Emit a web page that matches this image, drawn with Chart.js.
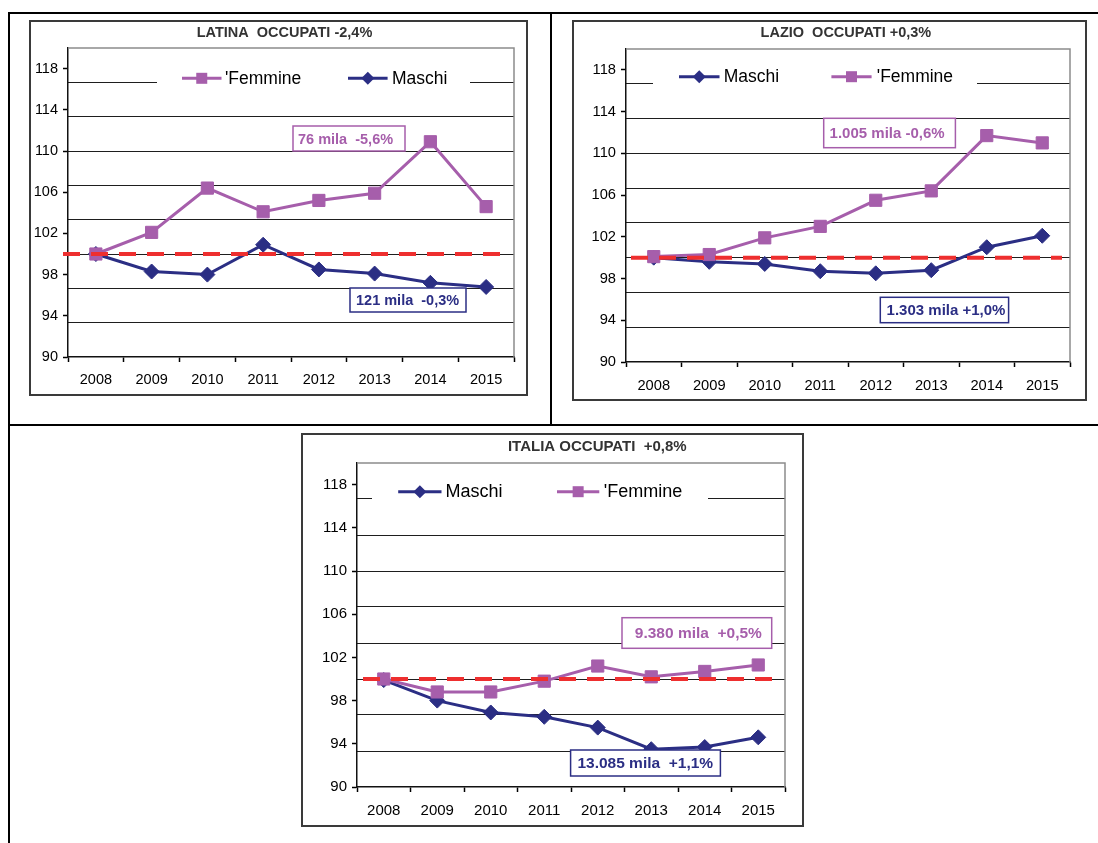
<!DOCTYPE html>
<html><head><meta charset="utf-8">
<script src="https://cdn.jsdelivr.net/npm/chart.js@4.4.1/dist/chart.umd.min.js"></script>
<style>
html,body{margin:0;padding:0;background:#fff;}
body{width:1098px;height:843px;position:relative;overflow:hidden;}
.ln{position:absolute;background:#000;}
canvas{position:absolute;}
</style></head><body>
<div class="ln" style="left:8px;top:12px;width:1090px;height:2px"></div>
<div class="ln" style="left:8px;top:12px;width:2px;height:831px"></div>
<div class="ln" style="left:550px;top:12px;width:2px;height:414px"></div>
<div class="ln" style="left:8px;top:424px;width:1090px;height:2px"></div>
<canvas id="c1" width="499" height="376" style="left:29px;top:20px;width:499px;height:376px"></canvas>
<canvas id="c2" width="515" height="381" style="left:572px;top:20px;width:515px;height:381px"></canvas>
<canvas id="c3" width="503" height="394" style="left:301px;top:433px;width:503px;height:394px"></canvas>
<script>
// ---------- data ----------
const years = ['2008','2009','2010','2011','2012','2013','2014','2015'];
const yTickLabels = [90, 94, 98, 102, 106, 110, 114, 118];
const gridValues = [93.333, 96.667, 100, 103.333, 106.667, 110, 113.333, 116.667];
const yMin = 90, yMax = 120;
const baseline = 100;

const latinaTitle = 'LATINA  OCCUPATI -2,4%';
const latinaFemmine = [100, 102.1, 106.4, 104.1, 105.2, 105.9, 110.9, 104.6];
const latinaMaschi  = [100, 98.3, 98.0, 100.9, 98.5, 98.1, 97.2, 96.8];
const latinaNoteF = '76 mila  -5,6%';
const latinaNoteM = '121 mila  -0,3%';

const lazioTitle = 'LAZIO  OCCUPATI +0,3%';
const lazioMaschi  = [100, 99.6, 99.4, 98.7, 98.5, 98.8, 101.0, 102.1];
const lazioFemmine = [100.1, 100.3, 101.9, 103.0, 105.5, 106.4, 111.7, 111.0];
const lazioNoteF = '1.005 mila -0,6%';
const lazioNoteM = '1.303 mila +1,0%';

const italiaTitle = 'ITALIA OCCUPATI  +0,8%';
const italiaMaschi  = [99.9, 98.0, 96.9, 96.5, 95.5, 93.5, 93.7, 94.6];
const italiaFemmine = [100.0, 98.8, 98.8, 99.8, 101.2, 100.2, 100.7, 101.3];
const italiaNoteF = '9.380 mila  +0,5%';
const italiaNoteM = '13.085 mila  +1,1%';

const labelMaschi = 'Maschi';
const labelFemmine = "'Femmine";

// ---------- styles ----------
const FONT = '"Liberation Sans", Arial, Helvetica, sans-serif';
const NAVY = '#2B2E84';
const PURPLE = '#A65EAB';
const RED = '#EE2F2F';

function femmineDs(data) {
  return {label: labelFemmine, data, borderColor: PURPLE, backgroundColor: PURPLE,
    borderWidth: 3, pointStyle: 'rect', pointRadius: 8.6, pointHoverRadius: 8.6,
    pointBorderWidth: 1, pointBackgroundColor: PURPLE, pointBorderColor: PURPLE,
    tension: 0, order: 0, key: 'F'};
}
function maschiDs(data) {
  return {label: labelMaschi, data, borderColor: NAVY, backgroundColor: NAVY,
    borderWidth: 3, pointStyle: 'rectRot', pointRadius: 7.5, pointHoverRadius: 7.5,
    pointBorderWidth: 1, pointBackgroundColor: NAVY, pointBorderColor: NAVY,
    tension: 0, order: 1, key: 'M'};
}

function drawMarker(ctx, style, x, y, s, color) {
  ctx.fillStyle = color;
  ctx.beginPath();
  if (style === 'rect') {
    ctx.rect(x - s / 2, y - s / 2, s, s);
  } else {
    ctx.moveTo(x, y - s / 2); ctx.lineTo(x + s / 2, y); ctx.lineTo(x, y + s / 2); ctx.lineTo(x - s / 2, y);
    ctx.closePath();
  }
  ctx.fill();
}

const decor = {
  id: 'decor',
  afterDatasetsDraw(chart, args, o) {
    const {ctx, chartArea: a} = chart;
    const py = chart.scales.y.getPixelForValue(baseline);
    ctx.save();
    ctx.strokeStyle = RED; ctx.lineWidth = 4; ctx.setLineDash([17, 11]);
    ctx.beginPath(); ctx.moveTo(a.left + o.refFrom, py); ctx.lineTo(a.right + o.refTo, py); ctx.stroke();
    ctx.restore();
  },
  afterDraw(chart, args, o) {
    const {ctx, chartArea: a, width, height} = chart;
    ctx.save();
    // plot frame top & right
    ctx.strokeStyle = '#8c8c8c'; ctx.lineWidth = 1.5;
    ctx.beginPath(); ctx.moveTo(a.left, a.top); ctx.lineTo(a.right, a.top); ctx.lineTo(a.right, a.bottom); ctx.stroke();
    // legend
    const L = o.legend;
    ctx.fillStyle = '#fff';
    ctx.fillRect(L.gapFrom, L.y - 11, L.gapTo - L.gapFrom, 22);
    L.items.forEach(it => {
      const ds = chart.data.datasets.find(d => d.key === it.key);
      ctx.strokeStyle = ds.borderColor; ctx.lineWidth = 3;
      ctx.beginPath(); ctx.moveTo(it.x0, L.y); ctx.lineTo(it.x1, L.y); ctx.stroke();
      drawMarker(ctx, ds.pointStyle, (it.x0 + it.x1) / 2, L.y, ds.pointStyle === 'rect' ? 11 : 13, ds.borderColor);
      ctx.fillStyle = '#000'; ctx.font = L.font + 'px ' + FONT; ctx.textBaseline = 'alphabetic'; ctx.textAlign = 'left';
      ctx.fillText(ds.label, it.tx, L.y + 5.7);
    });
    // note boxes
    o.notes.forEach(n => {
      ctx.fillStyle = '#fff'; ctx.fillRect(n.x, n.y, n.w, n.h);
      ctx.strokeStyle = n.color; ctx.lineWidth = 1.5; ctx.strokeRect(n.x, n.y, n.w, n.h);
      ctx.fillStyle = n.color; ctx.font = 'bold ' + o.noteFont + 'px ' + FONT;
      ctx.textAlign = 'left'; ctx.textBaseline = 'alphabetic';
      ctx.fillText(n.text, n.tx, n.y + n.h / 2 + 5.3);
    });
    // title
    ctx.fillStyle = '#333'; ctx.font = 'bold ' + o.titleFont + 'px ' + FONT;
    ctx.textAlign = 'center'; ctx.textBaseline = 'alphabetic';
    ctx.fillText(o.title, o.titleX, o.titleY);
    // outer box
    ctx.strokeStyle = '#3a3a3a'; ctx.lineWidth = 2;
    ctx.strokeRect(1, 1, width - 2, height - 2);
    ctx.restore();
  }
};

function makeChart(id, datasets, cfg) {
  new Chart(document.getElementById(id), {
    type: 'line',
    data: {labels: years, datasets},
    plugins: [decor],
    options: {
      responsive: false, animation: false, devicePixelRatio: 1,
      events: [],
      layout: {padding: {top: cfg.padTop, right: cfg.padRight, left: 0, bottom: 0}},
      plugins: {legend: {display: false}, tooltip: {enabled: false}, title: {display: false},
        decor: cfg.decor},
      scales: {
        x: {
          type: 'category', offset: true,
          grid: {offset: true, drawOnChartArea: false, drawTicks: true, tickLength: 5, color: '#000', tickColor: '#000', tickWidth: 1.5},
          border: {display: true, color: '#111', width: 1.5},
          ticks: {color: '#000', font: {family: FONT, size: cfg.tickFont}, padding: cfg.xPad, maxRotation: 0, autoSkip: false},
          afterFit: s => { s.height = cfg.xHeight; }
        },
        y: {
          type: 'linear', min: yMin, max: yMax, position: 'left',
          afterBuildTicks: s => { s.ticks = yTickLabels.map(v => ({value: v})); },
          grid: {drawOnChartArea: false, drawTicks: true, tickLength: 5, tickColor: '#000', tickWidth: 1.5},
          border: {display: true, color: '#111', width: 1.5},
          ticks: {color: '#000', font: {family: FONT, size: cfg.tickFont}, padding: 5},
          afterFit: s => { s.width = cfg.yWidth; }
        },
        y2: {
          type: 'linear', min: yMin, max: yMax, position: 'left',
          afterBuildTicks: s => { s.ticks = gridValues.map(v => ({value: v})); },
          grid: {drawTicks: false, color: '#1e1e1e', lineWidth: 1},
          border: {display: false},
          ticks: {display: false},
          afterFit: s => { s.width = 0; }
        }
      }
    }
  });
}

makeChart('c1', [femmineDs(latinaFemmine), maschiDs(latinaMaschi)], {
  padTop: 28, padRight: 14, yWidth: 39, xHeight: 39, tickFont: 14.5, xPad: 9,
  decor: {
    title: latinaTitle, titleX: 255.5, titleY: 16.7, titleFont: 14.5,
    refFrom: -5, refTo: -5,
    legend: {gapFrom: 128, gapTo: 441, y: 58.3, font: 17.5, items: [
      {key: 'F', x0: 153, x1: 192.5, tx: 196},
      {key: 'M', x0: 319, x1: 358.6, tx: 363}]},
    noteFont: 14.5,
    notes: [
      {text: latinaNoteF, color: PURPLE, x: 264, y: 106, w: 112, h: 25, tx: 269},
      {text: latinaNoteM, color: NAVY, x: 321, y: 268, w: 116, h: 24, tx: 327}]
  }
});

makeChart('c2', [femmineDs(lazioFemmine), maschiDs(lazioMaschi)], {
  padTop: 29, padRight: 17, yWidth: 54, xHeight: 39, tickFont: 14.7, xPad: 10,
  decor: {
    title: lazioTitle, titleX: 273.9, titleY: 17.3, titleFont: 14.5,
    refFrom: 5, refTo: -8,
    legend: {gapFrom: 81, gapTo: 405, y: 56.7, font: 17.5, items: [
      {key: 'M', x0: 107, x1: 147.5, tx: 151.7},
      {key: 'F', x0: 259.4, x1: 299.6, tx: 304.8}]},
    noteFont: 15,
    notes: [
      {text: lazioNoteF, color: PURPLE, x: 251.7, y: 98.3, w: 131.7, h: 29.4, tx: 257.6},
      {text: lazioNoteM, color: NAVY, x: 308.3, y: 277.3, w: 128.3, h: 25.4, tx: 314.6}]
  }
});

makeChart('c3', [femmineDs(italiaFemmine), maschiDs(italiaMaschi)], {
  padTop: 30, padRight: 19, yWidth: 56, xHeight: 40, tickFont: 15, xPad: 10,
  decor: {
    title: italiaTitle, titleX: 296.3, titleY: 18, titleFont: 15,
    refFrom: 6, refTo: -5,
    legend: {gapFrom: 71, gapTo: 407, y: 58.7, font: 18, items: [
      {key: 'M', x0: 97.2, x1: 140.5, tx: 144.5},
      {key: 'F', x0: 256, x1: 298.3, tx: 302.7}]},
    noteFont: 15.5,
    notes: [
      {text: italiaNoteF, color: PURPLE, x: 321, y: 184.7, w: 149.7, h: 30.6, tx: 333.8},
      {text: italiaNoteM, color: NAVY, x: 269.6, y: 317, w: 149.8, h: 26, tx: 276.4}]
  }
});
</script>
</body></html>
